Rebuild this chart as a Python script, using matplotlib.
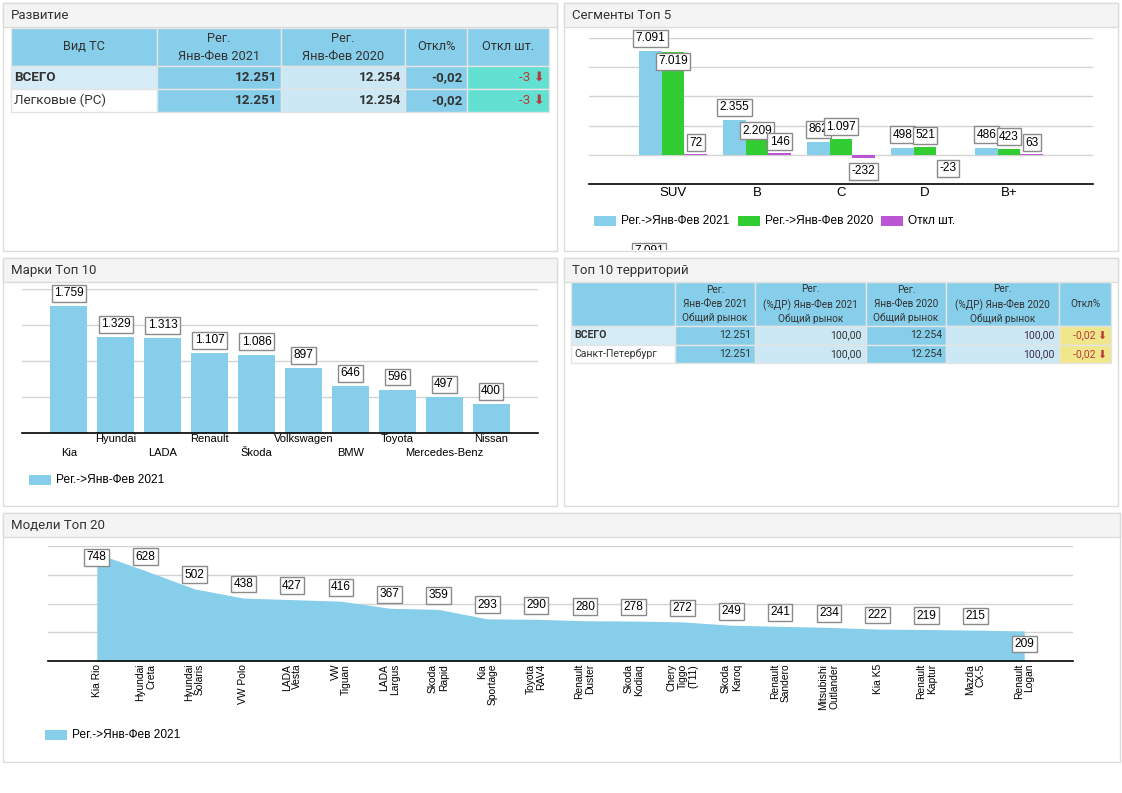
import matplotlib
matplotlib.use("Agg")
import numpy as np
import matplotlib.pyplot as plt
from matplotlib.patches import Rectangle

W, H = 1122, 793

# данные: Развитие
dev_cols = ["Вид ТС", "Рег.\nЯнв-Фев 2021", "Рег.\nЯнв-Фев 2020", "Откл%", "Откл шт."]
dev_rows = ["ВСЕГО", "Легковые (PC)"]
dev_2021 = [12251, 12251]
dev_2020 = [12254, 12254]
dev_pct = [-0.02, -0.02]
dev_diff = [-3, -3]

# данные: Сегменты Топ 5
seg_names = ["SUV", "B", "C", "D", "B+"]
seg_2021 = [7091, 2355, 862, 498, 486]
seg_2020 = [7019, 2209, 1097, 521, 423]
seg_diff = [72, 146, -232, -23, 63]

# данные: Марки Топ 10
brand_names = ["Kia", "Hyundai", "LADA", "Renault", "Škoda", "Volkswagen",
               "BMW", "Toyota", "Mercedes-Benz", "Nissan"]
brand_2021 = [1759, 1329, 1313, 1107, 1086, 897, 646, 596, 497, 400]

# данные: Топ 10 территорий
terr_cols = ["", "Рег.\nЯнв-Фев 2021\nОбщий рынок", "Рег.\n(%ДР) Янв-Фев 2021\nОбщий рынок",
             "Рег.\nЯнв-Фев 2020\nОбщий рынок", "Рег.\n(%ДР) Янв-Фев 2020\nОбщий рынок", "Откл%"]
terr_rows = ["ВСЕГО", "Санкт-Петербург"]
terr_2021 = [12251, 12251]
terr_share_2021 = [100.0, 100.0]
terr_2020 = [12254, 12254]
terr_share_2020 = [100.0, 100.0]
terr_pct = [-0.02, -0.02]

# данные: Модели Топ 20
model_names = ["Kia Rio", "Hyundai\nCreta", "Hyundai\nSolaris", "VW Polo", "LADA\nVesta",
               "VW\nTiguan", "LADA\nLargus", "Skoda\nRapid", "Kia\nSportage", "Toyota\nRAV4",
               "Renault\nDuster", "Skoda\nKodiaq", "Chery\nTiggo\n(T11)", "Skoda\nKaroq",
               "Renault\nSandero", "Mitsubishi\nOutlander", "Kia K5", "Renault\nKaptur",
               "Mazda\nCX-5", "Renault\nLogan"]
model_2021 = [748, 628, 502, 438, 427, 416, 367, 359, 293, 290,
              280, 278, 272, 249, 241, 234, 222, 219, 215, 209]

SKY = "#87ceeb"
LIGHT = "#cbe8f4"
LIGHT0 = "#d6edf7"
GREEN = "#32cd32"
PURPLE = "#ba55d3"
TURQ = "#62e1d3"
KHAKI = "#f0e68c"
RED = "#b83a3a"
TXT = "#333333"
GRID = "#d3d3d3"
UI = ["Roboto", "DejaVu Sans"]
CH = ["Liberation Sans", "DejaVu Sans"]


def fmt_int(v):
    return f"{v:,}".replace(",", ".")


def fmt_dec(v):
    return f"{v:.2f}".replace(".", ",")


fig = plt.figure(figsize=(W / 100, H / 100), dpi=100)
bg = fig.add_axes([0, 0, 1, 1])
bg.set_xlim(0, W)
bg.set_ylim(H, 0)
bg.axis("off")


def px_axes(x0, y0, x1, y1):
    ax = fig.add_axes([x0 / W, 1 - y1 / H, (x1 - x0) / W, (y1 - y0) / H])
    ax.set_facecolor("none")
    for s in ["top", "right", "left"]:
        ax.spines[s].set_visible(False)
    ax.spines["bottom"].set_color("black")
    ax.spines["bottom"].set_linewidth(1.2)
    ax.set_yticks([])
    ax.tick_params(axis="x", which="both", length=0)
    return ax


def panel(x0, y0, x1, y1, title):
    bg.add_patch(Rectangle((x0, y0), x1 - x0, y1 - y0, fc="white", ec="#dcdcdc", lw=1))
    bg.add_patch(Rectangle((x0, y0), x1 - x0, 24, fc="#f4f4f4", ec="#dcdcdc", lw=1))
    bg.text(x0 + 8, y0 + 12.5, title, fontsize=9.5, family=UI, color=TXT, va="center")


def legend_item(x, y, color, label):
    bg.add_patch(Rectangle((x, y - 5), 22, 10, fc=color, ec="none"))
    bg.text(x + 27, y, label, fontsize=8.6, family=CH, color="black", va="center")


def table(xe, ye, header, rows, fills, fsize, hfsize, lsp):
    for j in range(len(xe) - 1):
        bg.add_patch(Rectangle((xe[j], ye[0]), xe[j + 1] - xe[j], ye[1] - ye[0],
                               fc=SKY, ec="#e4e4e4", lw=1))
        bg.text((xe[j] + xe[j + 1]) / 2, (ye[0] + ye[1]) / 2, header[j], ha="center",
                va="center", fontsize=hfsize, family=UI, color=TXT, linespacing=lsp)
    for i, row in enumerate(rows):
        y0, y1 = ye[i + 1], ye[i + 2]
        for j, (txt, bold, color) in enumerate(row):
            bg.add_patch(Rectangle((xe[j], y0), xe[j + 1] - xe[j], y1 - y0,
                                   fc=fills[i][j], ec="#e4e4e4", lw=1))
            if j == 0:
                bg.text(xe[j] + 3, (y0 + y1) / 2, txt, ha="left", va="center", fontsize=fsize,
                        family=UI, color=TXT, fontweight="bold" if bold else "normal")
            else:
                bg.text(xe[j + 1] - 4, (y0 + y1) / 2, txt, ha="right", va="center",
                        fontsize=fsize, family=UI, color=color,
                        fontweight="bold" if bold else "normal")


def value_label(ax, x, v, dy, fs=8.6):
    ax.annotate(fmt_int(v), (x, v), xytext=(0, dy), textcoords="offset pixels",
                ha="center", va="center", fontsize=fs, family=CH, color="black", zorder=5,
                bbox=dict(boxstyle="square,pad=0.2", fc="white", ec="#8a8a8a", lw=1))


# панели
panel(3, 3, 557, 251, "Развитие")
panel(564, 3, 1118, 251, "Сегменты Топ 5")
panel(3, 258, 557, 506, "Марки Топ 10")
panel(564, 258, 1118, 506, "Топ 10 территорий")
panel(3, 513, 1120, 762, "Модели Топ 20")

# таблица Развитие
dev_table = []
for i in range(len(dev_rows)):
    dev_table.append([(dev_rows[i], i == 0, TXT),
                      (fmt_int(dev_2021[i]), True, TXT),
                      (fmt_int(dev_2020[i]), True, TXT),
                      (fmt_dec(dev_pct[i]), True, TXT),
                      (f"{dev_diff[i]} ⬇", False, RED)])
table([11, 157, 281, 405, 467, 549], [28, 66, 89, 112], dev_cols, dev_table,
      [[LIGHT0, SKY, LIGHT, SKY, TURQ], ["white", SKY, LIGHT, SKY, TURQ]], 9.6, 9.2, 1.5)

# таблица территорий
terr_table = []
for i in range(len(terr_rows)):
    terr_table.append([(terr_rows[i], i == 0, TXT),
                       (fmt_int(terr_2021[i]), False, TXT),
                       (fmt_dec(terr_share_2021[i]), False, TXT),
                       (fmt_int(terr_2020[i]), False, TXT),
                       (fmt_dec(terr_share_2020[i]), False, "#3d2d50"),
                       (f"{fmt_dec(terr_pct[i])} ⬇", False, RED)])
table([571, 675, 755, 866, 946, 1059, 1111], [282, 326, 345, 363], terr_cols, terr_table,
      [[LIGHT0, SKY, LIGHT, SKY, LIGHT, KHAKI], ["white", SKY, LIGHT, SKY, LIGHT, KHAKI]],
      7.6, 7.2, 1.45)

# Сегменты Топ 5
ax = px_axes(589, 38, 1093, 184)
x = np.arange(1, len(seg_names) + 1)
bw = 0.27
ax.bar(x - bw, seg_2021, bw, color=SKY, zorder=2)
ax.bar(x, seg_2020, bw, color=GREEN, zorder=2)
ax.bar(x + bw, seg_diff, bw, color=PURPLE, zorder=2)
ax.set_xlim(0, len(seg_names) + 1)
ax.set_ylim(-2000, 8000)
for yv in [0, 2000, 4000, 6000, 8000]:
    ax.axhline(yv, color=GRID, lw=1, zorder=0)
ax.set_xticks(x, seg_names, fontsize=9.5, family=CH)
ax.tick_params(axis="x", pad=2)
green_dy = [-9, -8, 12, 12, 12]
for i in range(len(seg_names)):
    value_label(ax, x[i] - bw, seg_2021[i], 13)
    value_label(ax, x[i], seg_2020[i], green_dy[i])
    value_label(ax, x[i] + bw, seg_diff[i], 11 if seg_diff[i] >= 0 else -13)
legend_item(594, 221, SKY, "Рег.->Янв-Фев 2021")
legend_item(738, 221, GREEN, "Рег.->Янв-Фев 2020")
legend_item(881, 221, PURPLE, "Откл шт.")
# обрезанная подпись у нижнего края панели
clip_ax = fig.add_axes([564 / W, 1 - 250 / H, 554 / W, 10 / H])
clip_ax.set_xlim(564, 1118)
clip_ax.set_ylim(250, 240)
clip_ax.axis("off")
clip_ax.text(649, 251, fmt_int(seg_2021[0]), ha="center", va="center", fontsize=8.6,
             family=CH, clip_on=True,
             bbox=dict(boxstyle="square,pad=0.2", fc="white", ec="#8a8a8a", lw=1))

# Марки Топ 10
ax = px_axes(22, 289, 538, 433)
x = np.arange(1, len(brand_names) + 1)
ax.bar(x, brand_2021, 0.79, color=SKY, zorder=2)
ax.set_xlim(0, len(brand_names) + 1)
ax.set_ylim(0, 2000)
for yv in [500, 1000, 1500, 2000]:
    ax.axhline(yv, color=GRID, lw=1, zorder=0)
# подписи в два ряда: нечётные сверху, чётные снизу
ax.set_xticks(x[1::2], brand_names[1::2], fontsize=8, family=CH)
ax.set_xticks(x[0::2], brand_names[0::2], minor=True, fontsize=8, family=CH)
ax.tick_params(axis="x", which="major", pad=1)
ax.tick_params(axis="x", which="minor", pad=11)
for i in range(len(brand_names)):
    value_label(ax, x[i], brand_2021[i], 13)
legend_item(29, 480, SKY, "Рег.->Янв-Фев 2021")

# Модели Топ 20
ax = px_axes(48, 546, 1073, 661)
x = np.arange(1, len(model_names) + 1)
ax.fill_between(x, model_2021, color=SKY, lw=0, zorder=2)
ax.set_xlim(0, len(model_names) + 1)
ax.set_ylim(0, 800)
for yv in [200, 400, 600, 800]:
    ax.axhline(yv, color=GRID, lw=1, zorder=0)
ax.set_xticks(x, model_names, fontsize=7.4, family=CH, rotation=90, va="top",
              ha="center", ma="right", linespacing=1.1)
ax.tick_params(axis="x", pad=2)
model_dy = [14] * len(model_names)
model_dy[0] = -4
model_dy[-1] = -13
for i in range(len(model_names)):
    value_label(ax, x[i], model_2021[i], model_dy[i])
legend_item(45, 735, SKY, "Рег.->Янв-Фев 2021")

fig.savefig("out.png", dpi=100)
